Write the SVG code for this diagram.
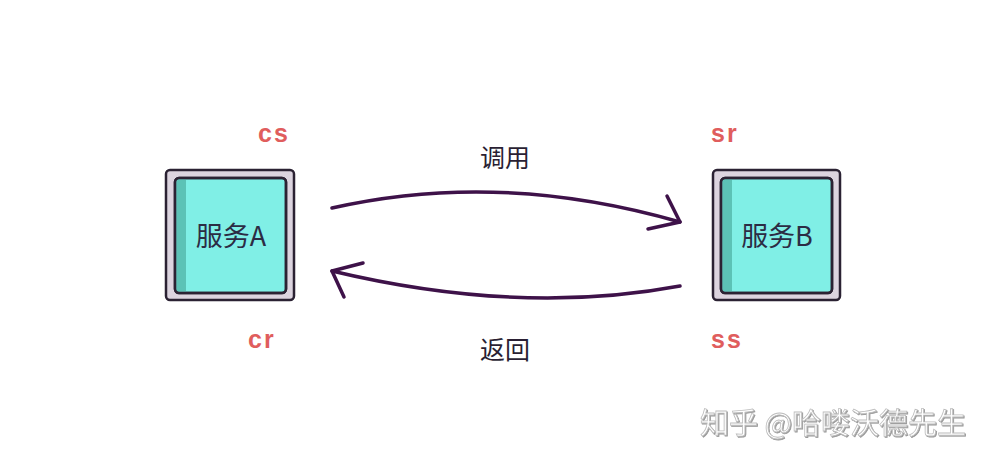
<svg xmlns="http://www.w3.org/2000/svg" width="1000" height="463" viewBox="0 0 1000 463">
<style>
.outer{fill:#dcd4df;stroke:#2b2233;stroke-width:2.5}
.inner{fill:#80efe6;stroke:#2b2233;stroke-width:2.5}
.stripe{fill:#5cc2b6}
.name{font-family:"Noto Sans CJK SC","Noto Sans",sans-serif;font-size:27px;fill:#2c2c44;text-anchor:middle}
.tag{font-family:"Liberation Sans","Noto Sans",sans-serif;font-weight:bold;font-size:25px;fill:#e05d5d;letter-spacing:2px}
.lbl{font-family:"Noto Sans CJK SC",sans-serif;font-size:25px;fill:#2a1f33;text-anchor:middle}
.arc{fill:none;stroke:#3e1249;stroke-width:3.5;stroke-linecap:round;stroke-linejoin:round}
.wm{font-family:"Noto Sans CJK SC",sans-serif;font-size:29px;fill:#ffffff;stroke:#bdbdbd;stroke-width:0.8}
</style>
<rect width="1000" height="463" fill="#ffffff"/>
<g id="nodeA">
<rect class="outer" x="166" y="170" width="128" height="130" rx="4"/>
<rect class="inner" x="175" y="178" width="111" height="115" rx="4"/>
<path class="stripe" d="M176.5 182 Q176.5 179.5 179 179.5 L186 179.5 L186 291.5 L179 291.5 Q176.5 291.5 176.5 289 Z"/>
<rect x="175" y="178" width="111" height="115" rx="4" fill="none" stroke="#2b2233" stroke-width="2.5"/>
<text class="name" x="231" y="246">服务A</text>
</g>
<g id="nodeB">
<rect class="outer" x="713" y="170" width="127" height="130" rx="4"/>
<rect class="inner" x="721" y="178" width="111" height="115" rx="4"/>
<path class="stripe" d="M722.5 182 Q722.5 179.5 725 179.5 L732 179.5 L732 291.5 L725 291.5 Q722.5 291.5 722.5 289 Z"/>
<rect x="721" y="178" width="111" height="115" rx="4" fill="none" stroke="#2b2233" stroke-width="2.5"/>
<text class="name" x="777" y="246">服务B</text>
</g>
<g id="labels">
<text class="tag" x="258" y="142">cs</text>
<text class="tag" x="711" y="142">sr</text>
<text class="tag" x="248" y="348">cr</text>
<text class="tag" x="711" y="348">ss</text>
</g>
<g id="connectors">
<path class="arc" d="M332 208 Q500 170 680 222"/>
<path class="arc" d="M667 196 L680 222 L648 229"/>
<path class="arc" d="M680 286 Q520 316 332 271"/>
<path class="arc" d="M363 263 L332 271 L344 297"/>
<text class="lbl" x="505" y="167">调用</text>
<text class="lbl" x="505" y="359">返回</text>
</g>
<text class="wm" x="700" y="434" style="filter:drop-shadow(1px 1px 0 #9a9a9a)">知乎 @哈喽沃德先生</text>
</svg>
